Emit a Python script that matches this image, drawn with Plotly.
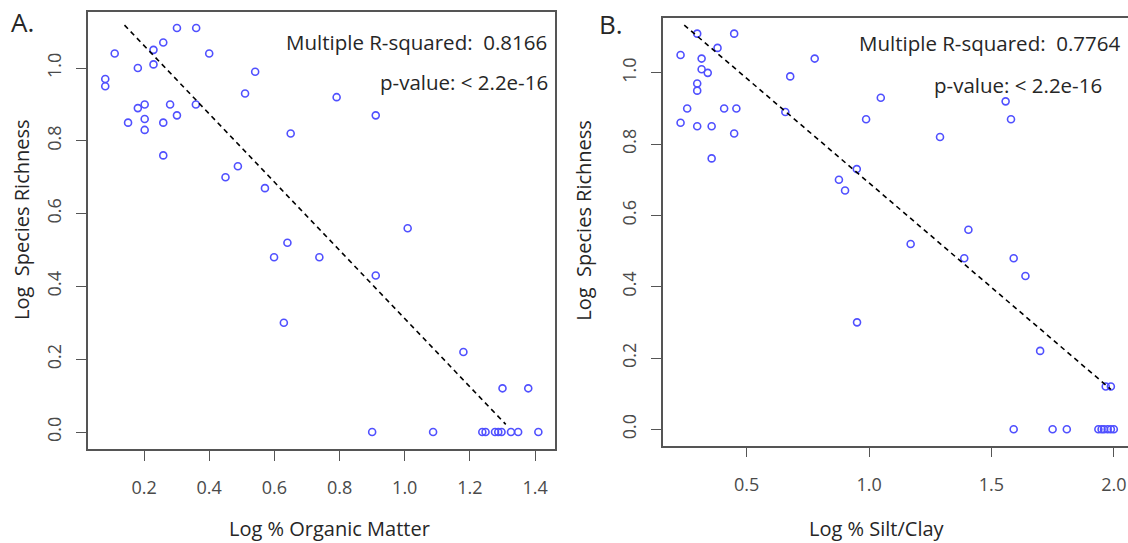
import plotly.graph_objects as go

# A: log % organic matter vs log species richness
om_x = [0.081, 0.081, 0.110, 0.151, 0.181, 0.181, 0.202, 0.202, 0.202, 0.229,
        0.229, 0.259, 0.259, 0.259, 0.280, 0.301, 0.301, 0.360, 0.359, 0.400,
        0.450, 0.488, 0.510, 0.541, 0.571, 0.650, 0.640, 0.791, 0.911, 1.009,
        0.599, 0.629, 0.738, 0.911, 1.180, 1.300, 1.379,
        0.900, 1.087, 1.238, 1.248, 1.277, 1.287, 1.297, 1.326, 1.348, 1.410]
om_y = [0.97, 0.95, 1.04, 0.85, 1.00, 0.89, 0.90, 0.86, 0.83, 1.05,
        1.01, 1.07, 0.85, 0.76, 0.90, 0.87, 1.11, 1.11, 0.90, 1.04,
        0.70, 0.73, 0.93, 0.99, 0.67, 0.82, 0.52, 0.92, 0.87, 0.56,
        0.48, 0.30, 0.48, 0.43, 0.22, 0.12, 0.12,
        0, 0, 0, 0, 0, 0, 0, 0, 0, 0]
om_fit_x = [0.14, 1.31]
om_fit_y = [1.118, 0.021]

# B: log % silt/clay vs log species richness
sc_x = [0.230, 0.230, 0.257, 0.298, 0.298, 0.298, 0.298, 0.316, 0.316, 0.341,
        0.357, 0.357, 0.381, 0.408, 0.449, 0.458, 0.449, 0.658, 0.678, 0.778,
        0.877, 0.902, 0.950, 1.048, 0.988, 1.290, 1.558, 1.580, 1.406, 1.170,
        1.389, 1.591, 1.639, 0.951, 1.699, 1.967, 1.988,
        1.591, 1.750, 1.808, 1.937, 1.950, 1.960, 1.975, 1.988, 2.000]
sc_y = [1.05, 0.86, 0.90, 1.11, 0.97, 0.95, 0.85, 1.04, 1.01, 1.00,
        0.85, 0.76, 1.07, 0.90, 1.11, 0.90, 0.83, 0.89, 0.99, 1.04,
        0.70, 0.67, 0.73, 0.93, 0.87, 0.82, 0.92, 0.87, 0.56, 0.52,
        0.48, 0.48, 0.43, 0.30, 0.22, 0.12, 0.12,
        0, 0, 0, 0, 0, 0, 0, 0, 0]
sc_fit_x = [0.245, 1.988]
sc_fit_y = [1.134, 0.112]

xticks_a = [0.2, 0.4, 0.6, 0.8, 1.0, 1.2, 1.4]
xticks_b = [0.5, 1.0, 1.5, 2.0]
yticks = [0.0, 0.2, 0.4, 0.6, 0.8, 1.0]

stats_a = ["Multiple R-squared:\u00a0 0.8166", "p-value: < 2.2e-16"]
stats_b = ["Multiple R-squared:\u00a0 0.7764", "p-value: < 2.2e-16"]

FONT = "Open Sans"
pt_color = "#5050ff"
fig = go.Figure()

for xs, ys, fx, fy, xa, ya in [(om_x, om_y, om_fit_x, om_fit_y, "x", "y"),
                               (sc_x, sc_y, sc_fit_x, sc_fit_y, "x2", "y2")]:
    fig.add_trace(go.Scatter(x=xs, y=ys, mode="markers", xaxis=xa, yaxis=ya,
                             marker=dict(symbol="circle-open", size=7, color=pt_color,
                                         line=dict(width=1.6, color=pt_color)),
                             showlegend=False))
    fig.add_trace(go.Scatter(x=fx, y=fy, mode="lines", xaxis=xa, yaxis=ya,
                             line=dict(color="black", width=1.6, dash="5px,4px"),
                             showlegend=False))

axis_style = dict(showgrid=False, zeroline=False, showline=True, linecolor="#555",
                  linewidth=1.5, ticks="outside", ticklen=10, tickwidth=1.3,
                  tickcolor="#555", tickformat=".1f", automargin=False,
                  tickfont=dict(family=FONT, size=18, color="#4a4a4a"))

fig.update_layout(
    width=1128, height=543,
    margin=dict(l=0, r=0, t=0, b=0),
    plot_bgcolor="white", paper_bgcolor="white",
    xaxis=dict(axis_style, domain=[0.078, 0.492], range=[0.028, 1.461],
               tickvals=xticks_a, mirror=True, anchor="y", ticklabelstandoff=12),
    yaxis=dict(axis_style, domain=[0.1731, 0.9779], range=[-0.0467, 1.154],
               tickvals=yticks, mirror=True, anchor="x", tickangle=-90,
               ticklabelstandoff=8),
    xaxis2=dict(axis_style, domain=[0.5875, 1.0], range=[0.157, 2.058],
                tickvals=xticks_b, mirror=True, anchor="y2", ticklabelstandoff=12),
    yaxis2=dict(axis_style, domain=[0.1792, 0.9663], range=[-0.046, 1.153],
                tickvals=yticks, anchor="x2", tickangle=-90, ticklabelstandoff=8),
)

txt = dict(family=FONT, color="#262626")
notes = [
    ("A.", 0.008, 0.9595, "left", 0, 26),
    ("B.", 0.529, 0.956, "left", 0, 26),
    (stats_a[0], 0.4867, 0.9227, "right", 0, 20.5),
    (stats_a[1], 0.4876, 0.849, "right", 0, 20.5),
    (stats_b[0], 0.9947, 0.9208, "right", 0, 20.5),
    (stats_b[1], 0.9787, 0.8435, "right", 0, 20.5),
    ("Log % Organic Matter", 0.2917, 0.0265, "center", 0, 20),
    ("Log % Silt/Clay", 0.7775, 0.0265, "center", 0, 20),
    ("Log\u00a0 Species Richness", 0.0195, 0.5967, "center", -90, 20),
    ("Log\u00a0 Species Richness", 0.517, 0.594, "center", -90, 20),
]
for text, x, y, anchor, angle, size in notes:
    fig.add_annotation(text=text, x=x, y=y, xref="paper", yref="paper",
                       xanchor=anchor, yanchor="middle", textangle=angle,
                       showarrow=False, font=dict(txt, size=size))

# drop the browser's default body margin so the figure sits at (0, 0)
fig.write_html("out.html", config={"displayModeBar": False},
               post_script="document.body.style.margin='0px';")
